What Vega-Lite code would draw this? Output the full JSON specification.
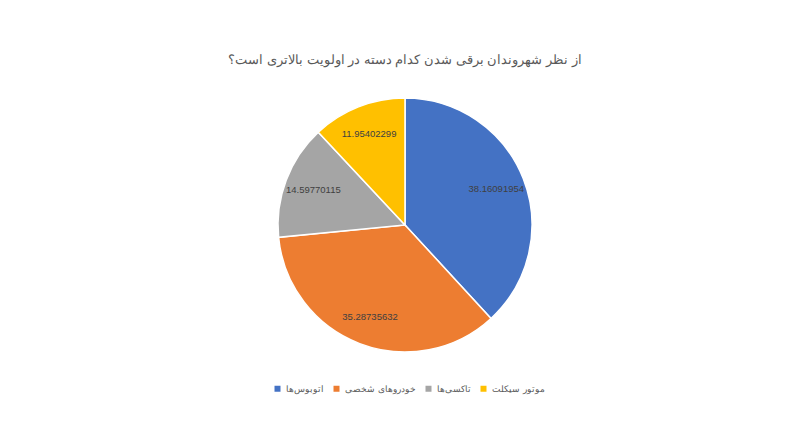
{
  "$schema": "https://vega.github.io/schema/vega-lite/v6.json",
  "autosize": "none",
  "padding": {"top": 80, "left": 5, "right": 0, "bottom": 71},
  "width": 800,
  "height": 290,
  "background": "white",
  "config": {
    "view": {"stroke": "transparent"},
    "font": "Liberation Sans"
  },
  "title": {
    "text": "از نظر شهروندان برقی شدن کدام دسته در اولویت بالاتری است؟",
    "fontSize": 13,
    "fontWeight": "normal",
    "color": "#595959",
    "anchor": "middle",
    "offset": 13
  },
  "data": {
    "values": [
      {"group": "اتوبوس‌ها", "value": 38.16091954, "idx": 1},
      {"group": "خودروهای شخصی", "value": 35.28735632, "idx": 2},
      {"group": "تاکسی‌ها", "value": 14.59770115, "idx": 3},
      {"group": "موتور سیکلت", "value": 11.95402299, "idx": 4}
    ]
  },
  "encoding": {
    "theta": {"field": "value", "type": "quantitative", "stack": true},
    "order": {"field": "idx", "type": "ordinal"},
    "color": {
      "field": "group",
      "type": "nominal",
      "title": null,
      "sort": null,
      "scale": {
        "domain": ["اتوبوس‌ها", "خودروهای شخصی", "تاکسی‌ها", "موتور سیکلت"],
        "range": ["#4472C4", "#ED7D31", "#A5A5A5", "#FFC000"]
      },
      "legend": {
        "orient": "none",
        "legendX": 268,
        "legendY": 304,
        "direction": "horizontal",
        "symbolType": "square",
        "symbolSize": 36,
        "symbolStrokeWidth": 0,
        "labelFontSize": 9,
        "labelOffset": 4,
        "labelColor": "#595959",
        "columnPadding": 8
      }
    }
  },
  "layer": [
    {
      "mark": {"type": "arc", "outerRadius": 127, "stroke": "white", "strokeWidth": 1.5}
    },
    {
      "mark": {"type": "text", "radius": 98, "fontSize": 9.5, "fill": "#404040"},
      "encoding": {
        "text": {"field": "value", "type": "quantitative", "format": ".8f"},
        "color": {"value": "#404040"}
      }
    }
  ]
}
